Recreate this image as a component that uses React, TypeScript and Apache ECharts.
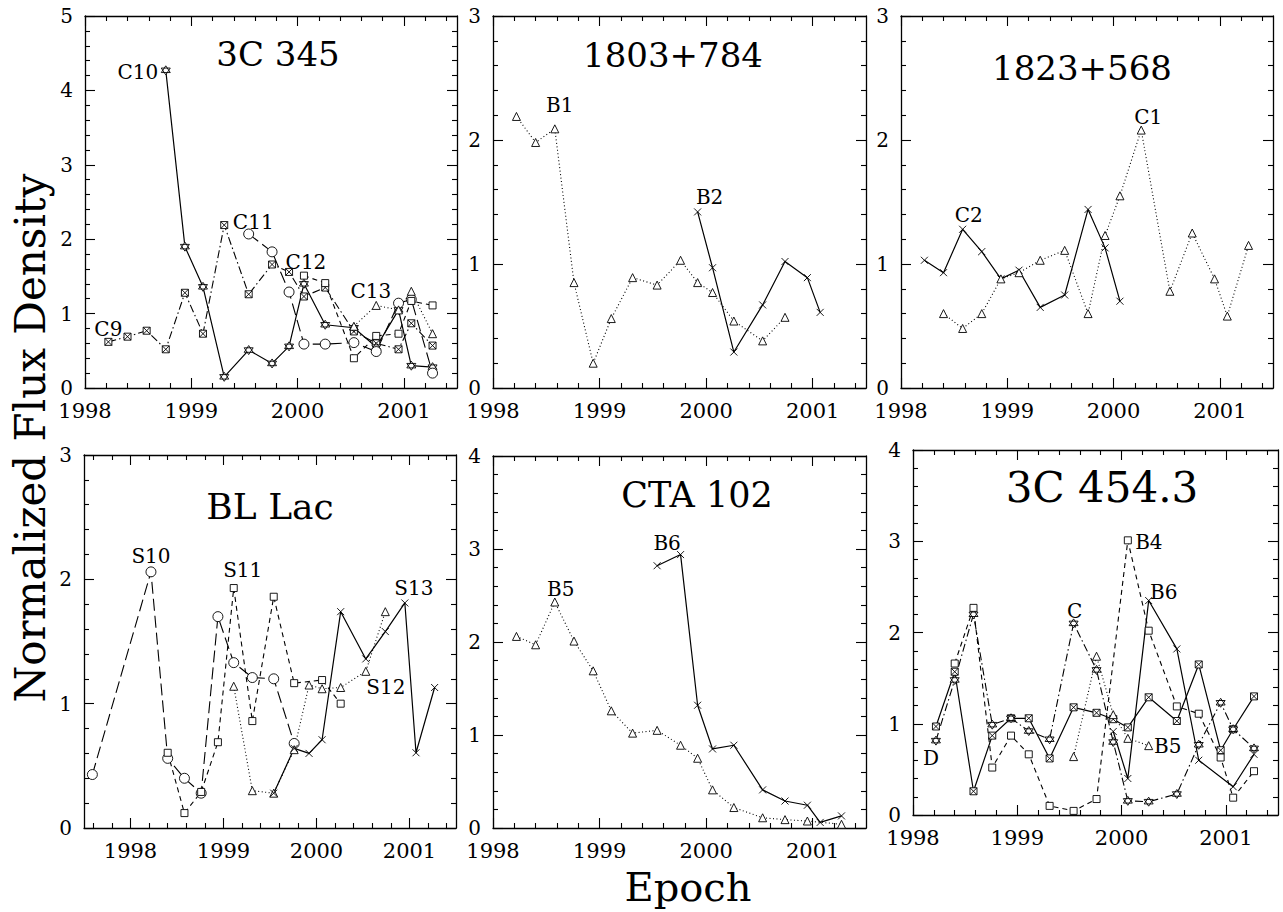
import React, { useEffect, useRef } from 'react';
import * as echarts from 'echarts';

const _ = null;

// Observing epochs (years)
const epochs = [1997.59, 1998.22, 1998.40, 1998.58, 1998.76, 1998.94, 1999.11, 1999.31, 1999.54, 1999.76, 1999.92, 2000.06, 2000.26, 2000.53, 2000.74, 2000.95, 2001.07, 2001.27];

// Tick labels
const yearTicks = [1998, 1999, 2000, 2001];

// 3C 345
const c9_345 = [_, 0.62, 0.69, 0.77, 0.52, 1.28, 0.73, 2.19, 1.26, 1.66, 1.56, 1.23, 1.35, 0.76, 0.60, 0.52, 0.87, 0.57];
const c10_345 = [_, _, _, _, 4.27, 1.90, 1.36, 0.15, 0.51, 0.33, 0.56, 1.40, 0.85, 0.81, 0.55, 1.05, 0.30, 0.28];
const c11_345 = [_, _, _, _, _, _, _, _, 2.07, 1.83, 1.29, 0.59, 0.59, 0.61, 0.49, 1.14, 1.19, 0.20];
const c12_345 = [_, _, _, _, _, _, _, _, _, _, _, 1.51, 1.41, 0.40, 0.70, 0.73, 1.17, 1.11];
const c13_345 = [_, _, _, _, _, _, _, _, _, _, _, _, _, 0.83, 1.11, 1.05, 1.30, 0.73];

// 1803+784
const b1_1803 = [_, 2.19, 1.98, 2.09, 0.85, 0.20, 0.56, 0.89, 0.83, 1.03, 0.85, 0.77, 0.54, 0.38, 0.57, _, _, _];
const b2_1803 = [_, _, _, _, _, _, _, _, _, _, 1.42, 0.97, 0.29, 0.67, 1.02, 0.89, 0.61, _];

// 1823+568
const c2_1823 = [_, 1.03, 0.93, 1.28, 1.10, 0.88, 0.95, 0.65, 0.75, 1.44, 1.13, 0.70, _, _, _, _, _, _];
const c1_1823 = [_, _, 0.60, 0.48, 0.60, 0.88, 0.93, 1.03, 1.11, 0.60, 1.23, 1.55, 2.08, 0.78, 1.25, 0.88, 0.58, 1.15];

// BL Lac
const s10_bl = [0.43, 2.06, 0.56, 0.40, 0.28, 1.70, 1.33, 1.21, 1.20, 0.68, _, _, _, _, _, _, _, _];
const s11_bl = [_, _, 0.605, 0.12, 0.29, 0.69, 1.93, 0.86, 1.86, 1.165, _, 1.19, 1.00, _, _, _, _, _];
const s12_bl = [_, _, _, _, _, _, 1.14, 0.30, 0.28, 0.63, 1.15, 1.12, 1.13, 1.26, 1.74, _, _, _];
const s13_bl = [_, _, _, _, _, _, _, _, 0.28, 0.64, 0.60, 0.71, 1.74, 1.36, 1.58, 1.81, 0.605, 1.13];

// CTA 102
const b5_cta = [_, 2.06, 1.97, 2.43, 2.01, 1.69, 1.26, 1.02, 1.05, 0.89, 0.75, 0.41, 0.22, 0.11, 0.09, 0.075, _, 0.04];
const b6_cta = [_, _, _, _, _, _, _, _, 2.82, 2.94, 1.32, 0.85, 0.89, 0.41, 0.29, 0.245, 0.06, 0.13];

// 3C 454.3
const d_454 = [_, 0.97, 1.57, 0.26, 0.87, 1.06, 1.06, 0.62, 1.18, 1.12, 1.05, 0.96, 1.29, 1.03, 1.65, 0.71, 0.94, 1.30];
const c_454 = [_, 0.815, 1.48, 2.20, 0.99, 1.06, 0.92, 0.83, 2.10, 1.59, 0.80, 0.155, 0.146, 0.23, 0.77, 1.23, 0.94, 0.73];
const b4_454 = [_, _, 1.66, 2.27, 0.52, 0.87, 0.665, 0.10, 0.045, 0.175, _, 3.01, 2.02, 1.19, 1.11, 0.63, 0.19, 0.48];
const b5_454 = [_, _, _, _, _, _, _, _, 0.64, 1.74, 1.10, 0.84, 0.76, _, _, _, _, _];
const b6_454 = [_, _, _, _, _, _, _, _, _, _, 0.915, 0.40, 2.35, 1.82, 0.60, _, 0.31, 0.665];

const FONT = '"DejaVu Serif", serif';
const BLACK = '#000';

const panels = [
  { left: 85, top: 16, width: 372, height: 372, xmin: 1998, xmax: 2001.5, ymax: 5, title: '3C 345', tx: 278, ty: 54, ts: 34 },
  { left: 493, top: 16, width: 373, height: 372, xmin: 1998, xmax: 2001.5, ymax: 3, title: '1803+784', tx: 673, ty: 55, ts: 34 },
  { left: 901, top: 16, width: 372, height: 372, xmin: 1998, xmax: 2001.5, ymax: 3, title: '1823+568', tx: 1082, ty: 68, ts: 34 },
  { left: 84, top: 455, width: 372, height: 373, xmin: 1997.5, xmax: 2001.5, ymax: 3, title: 'BL Lac', tx: 270, ty: 506, ts: 36 },
  { left: 493, top: 456, width: 373, height: 372, xmin: 1998, xmax: 2001.5, ymax: 4, title: 'CTA 102', tx: 697, ty: 495, ts: 35 },
  { left: 913, top: 450, width: 365, height: 365, xmin: 1998, xmax: 2001.5, ymax: 4, title: '3C 454.3', tx: 1102, ty: 487, ts: 42 },
];

const SYM: Record<string, string> = {
  tri: 'path://M5,0L10,8.66L0,8.66Z',
  circ: 'path://M0,5A5,5,0,1,1,10,5A5,5,0,1,1,0,5Z',
  sq: 'path://M0,0L10,0L10,10L0,10Z',
  cross: 'path://M0,0L10,10M10,0L0,10',
  star: 'path://M5,0L9.33,7.5L0.67,7.5Z M5,10L0.67,2.5L9.33,2.5Z',
  hour: 'path://M0,0L10,0L10,10L0,10Z M0,0L10,10 M10,0L0,10',
};
const SYMSIZE: Record<string, number> = { tri: 8, circ: 10, sq: 7, cross: 7, star: 9, hour: 7 };
const DASH: Record<string, any> = {
  solid: 'solid',
  dot: [1, 2.5],
  dash: [5, 4],
  long: [12, 5],
  dashdot: [8, 3, 1.5, 3],
};

type Note = { i: number; text: string; dx: number; dy: number };
const seriesDefs: { p: number; name: string; v: (number | null)[]; sym: string; dash: string; notes?: Note[] }[] = [
  { p: 0, name: 'C9', v: c9_345, sym: 'hour', dash: 'dashdot', notes: [{ i: 1, text: 'C9', dx: 0, dy: -13 }, { i: 7, text: 'C11', dx: 29, dy: -3 }] },
  { p: 0, name: 'C10', v: c10_345, sym: 'star', dash: 'solid', notes: [{ i: 4, text: 'C10', dx: -28, dy: 2 }] },
  { p: 0, name: 'C11', v: c11_345, sym: 'circ', dash: 'long' },
  { p: 0, name: 'C12', v: c12_345, sym: 'sq', dash: 'dash', notes: [{ i: 11, text: 'C12', dx: 2, dy: -14 }] },
  { p: 0, name: 'C13', v: c13_345, sym: 'tri', dash: 'dot', notes: [{ i: 13, text: 'C13', dx: 17, dy: -35 }] },
  { p: 1, name: 'B1', v: b1_1803, sym: 'tri', dash: 'dot', notes: [{ i: 3, text: 'B1', dx: 5, dy: -24 }] },
  { p: 1, name: 'B2', v: b2_1803, sym: 'cross', dash: 'solid', notes: [{ i: 10, text: 'B2', dx: 12, dy: -15 }] },
  { p: 2, name: 'C2', v: c2_1823, sym: 'cross', dash: 'solid', notes: [{ i: 3, text: 'C2', dx: 6, dy: -14 }] },
  { p: 2, name: 'C1', v: c1_1823, sym: 'tri', dash: 'dot', notes: [{ i: 12, text: 'C1', dx: 7, dy: -13 }] },
  { p: 3, name: 'S10', v: s10_bl, sym: 'circ', dash: 'long', notes: [{ i: 1, text: 'S10', dx: 0, dy: -16 }] },
  { p: 3, name: 'S11', v: s11_bl, sym: 'sq', dash: 'dash', notes: [{ i: 6, text: 'S11', dx: 9, dy: -18 }] },
  { p: 3, name: 'S12', v: s12_bl, sym: 'tri', dash: 'dot', notes: [{ i: 13, text: 'S12', dx: 20, dy: 16 }] },
  { p: 3, name: 'S13', v: s13_bl, sym: 'cross', dash: 'solid', notes: [{ i: 15, text: 'S13', dx: 9, dy: -15 }] },
  { p: 4, name: 'B5', v: b5_cta, sym: 'tri', dash: 'dot', notes: [{ i: 3, text: 'B5', dx: 6, dy: -13 }] },
  { p: 4, name: 'B6', v: b6_cta, sym: 'cross', dash: 'solid', notes: [{ i: 8, text: 'B6', dx: 10, dy: -23 }] },
  { p: 5, name: 'D', v: d_454, sym: 'hour', dash: 'solid' },
  { p: 5, name: 'C', v: c_454, sym: 'star', dash: 'dashdot', notes: [{ i: 1, text: 'D', dx: -5, dy: 17 }, { i: 8, text: 'C', dx: 1, dy: -12 }] },
  { p: 5, name: 'B4', v: b4_454, sym: 'sq', dash: 'dash', notes: [{ i: 11, text: 'B4', dx: 21, dy: 2 }] },
  { p: 5, name: 'B5 ', v: b5_454, sym: 'tri', dash: 'dot', notes: [{ i: 12, text: 'B5', dx: 19, dy: 0 }] },
  { p: 5, name: 'B6 ', v: b6_454, sym: 'cross', dash: 'solid', notes: [{ i: 12, text: 'B6', dx: 15, dy: -9 }] },
];

function minorTicks(min: number, max: number) {
  const out: number[] = [];
  for (let k = Math.ceil(min * 5 - 1e-6); k <= Math.floor(max * 5 + 1e-6); k++) {
    if (k % 5 !== 0) out.push(k / 5);
  }
  return out;
}

function buildOption() {
  const axisLine = { show: true, onZero: false, lineStyle: { color: BLACK, width: 1.3 } };
  const tickStyle = { color: BLACK, width: 1.1 };
  const grid: any[] = [];
  const xAxis: any[] = [];
  const yAxis: any[] = [];
  panels.forEach((pn, gi) => {
    grid.push({ left: pn.left, top: pn.top, width: pn.width, height: pn.height, containLabel: false });
    const minors = minorTicks(pn.xmin, pn.xmax);
    const base = { type: 'value', gridIndex: gi, min: pn.xmin, max: pn.xmax, splitLine: { show: false } };
    xAxis.push({
      ...base, position: 'bottom', axisLine,
      axisTick: { show: true, inside: true, length: 10, customValues: yearTicks, lineStyle: tickStyle },
      axisLabel: { show: true, customValues: yearTicks, color: BLACK, fontFamily: FONT, fontSize: 21, margin: 12, formatter: (v: number) => String(Math.round(v)) },
    });
    xAxis.push({
      ...base, position: 'bottom', axisLine: { show: false, onZero: false },
      axisTick: { show: true, inside: true, length: 5, customValues: minors, lineStyle: tickStyle },
      axisLabel: { show: false },
    });
    xAxis.push({
      ...base, position: 'top', axisLine,
      axisTick: { show: true, inside: true, length: 10, customValues: yearTicks, lineStyle: tickStyle },
      axisLabel: { show: false },
    });
    xAxis.push({
      ...base, position: 'top', axisLine: { show: false, onZero: false },
      axisTick: { show: true, inside: true, length: 5, customValues: minors, lineStyle: tickStyle },
      axisLabel: { show: false },
    });
    const ybase = {
      type: 'value', gridIndex: gi, min: 0, max: pn.ymax, interval: 1, splitLine: { show: false },
      axisLine, axisTick: { show: true, inside: true, length: 10, lineStyle: tickStyle },
      minorTick: { show: true, splitNumber: 5, length: 5, lineStyle: tickStyle },
    };
    yAxis.push({
      ...ybase, position: 'left',
      axisLabel: { show: true, color: BLACK, fontFamily: FONT, fontSize: 20, margin: 12 },
    });
    yAxis.push({ ...ybase, position: 'right', axisLabel: { show: false } });
  });

  const series = seriesDefs.map((s) => {
    const data = epochs.map((e, i) => (s.v[i] == null ? null : [e, s.v[i]])).filter((d) => d !== null);
    const out: any = {
      type: 'line',
      name: s.name,
      xAxisIndex: s.p * 4,
      yAxisIndex: s.p * 2,
      data,
      symbol: SYM[s.sym],
      symbolSize: SYMSIZE[s.sym],
      showAllSymbol: true,
      lineStyle: { color: BLACK, width: s.dash === 'solid' ? 1.2 : 1.1, type: DASH[s.dash] },
      itemStyle: { color: '#fff', borderColor: BLACK, borderWidth: 0.9 },
      emphasis: { disabled: true },
      silent: true,
      z: 3,
    };
    if (s.notes) {
      out.markPoint = {
        symbol: 'rect',
        symbolSize: 1,
        itemStyle: { color: 'rgba(0,0,0,0)' },
        silent: true,
        label: { show: true, position: 'inside', color: BLACK, fontFamily: FONT, fontSize: 20 },
        data: s.notes.map((n) => ({
          coord: [epochs[n.i], s.v[n.i]],
          label: { formatter: n.text, offset: [n.dx, n.dy] },
        })),
      };
    }
    return out;
  });

  const graphic: any[] = panels.map((pn) => ({
    type: 'text',
    x: pn.tx,
    y: pn.ty,
    style: { text: pn.title, fill: BLACK, font: `${pn.ts}px ${FONT}`, textAlign: 'center', textVerticalAlign: 'middle' },
  }));
  graphic.push({
    type: 'text',
    x: 30,
    y: 438,
    rotation: Math.PI / 2,
    style: { text: 'Normalized Flux Density', fill: BLACK, font: `42px ${FONT}`, textAlign: 'center', textVerticalAlign: 'middle' },
  });
  graphic.push({
    type: 'text',
    x: 688,
    y: 887,
    style: { text: 'Epoch', fill: BLACK, font: `40px ${FONT}`, textAlign: 'center', textVerticalAlign: 'middle' },
  });

  return {
    animation: false,
    backgroundColor: '#fff',
    grid,
    xAxis,
    yAxis,
    series,
    graphic,
  };
}

export default function App() {
  const ref = useRef<HTMLDivElement>(null);
  useEffect(() => {
    const chart = echarts.init(ref.current!, null, { renderer: 'svg' });
    chart.setOption(buildOption() as any);
    return () => chart.dispose();
  }, []);
  return (
    <div
      ref={ref}
      style={{ position: 'absolute', left: 0, top: 0, width: 1283, height: 912, background: '#fff' }}
    />
  );
}
